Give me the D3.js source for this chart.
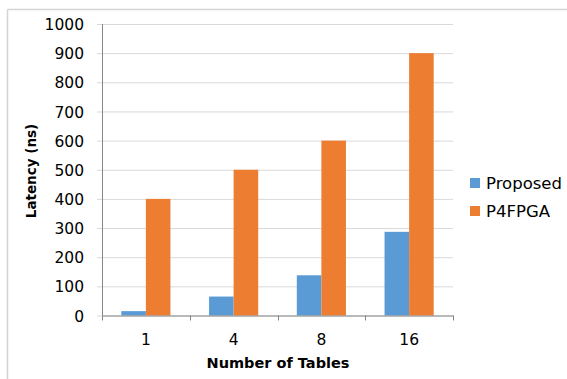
<!DOCTYPE html>
<html>
<head>
<meta charset="utf-8">
<script src="https://cdn.jsdelivr.net/npm/d3@7"></script>
<style>
  html, body { margin: 0; padding: 0; background: #fff; }
  svg { display: block; }
  text { font-family: "DejaVu Sans", sans-serif; fill: #000; }
</style>
</head>
<body>
<svg id="chart" width="567" height="379"></svg>
<script>
// Latency per number of match-action tables
const categories = ["1", "4", "8", "16"];
const seriesNames = ["Proposed", "P4FPGA"];
const proposed = [15, 65, 138, 287];
const p4fpga = [400, 500, 600, 900];
const yTicks = [0, 100, 200, 300, 400, 500, 600, 700, 800, 900, 1000];
const colors = ["#5b9bd5", "#ed7d31"];

const svg = d3.select("#chart");
const W = 567, H = 379;
const plot = { left: 102, right: 453, top: 24, bottom: 315.5 };

// outer chart frame (top and left edges)
svg.append("line").attr("x1", 7.5).attr("x2", W).attr("y1", 9.5).attr("y2", 9.5)
  .attr("stroke", "#d4d4d4").attr("stroke-width", 1.5);
svg.append("line").attr("x1", 7.5).attr("x2", 7.5).attr("y1", 9.5).attr("y2", H)
  .attr("stroke", "#d4d4d4").attr("stroke-width", 1.5);

const x0 = d3.scaleBand().domain(categories).range([plot.left, plot.right]).paddingInner(0).paddingOuter(0);
const bandPad = 0.22; // fraction of band left empty on each side of a group
const x1 = d3.scaleBand().domain(seriesNames)
  .range([x0.bandwidth() * bandPad, x0.bandwidth() * (1 - bandPad)]);
const y = d3.scaleLinear().domain([0, 1000]).range([plot.bottom, plot.top]);

// horizontal gridlines + short ticks
const yAxis = d3.axisLeft(y).tickValues(yTicks).tickSize(-(plot.right - plot.left)).tickPadding(18).tickFormat(d3.format("d"));
const gy = svg.append("g").attr("transform", `translate(${plot.left},0)`).call(yAxis);
gy.select(".domain").remove();
gy.selectAll(".tick line").attr("stroke", "#d9d9d9").attr("x1", -5);
gy.selectAll(".tick text").attr("font-size", 15.5).attr("dy", "0.36em");

// bars
const rows = categories.map((c, i) => ({ cat: c, vals: [proposed[i], p4fpga[i]] }));
const groups = svg.append("g").selectAll("g").data(rows).join("g")
  .attr("transform", d => `translate(${x0(d.cat)},0)`);
groups.selectAll("rect").data(d => d.vals.map((v, k) => ({ key: seriesNames[k], v, k })))
  .join("rect")
  .attr("x", d => x1(d.key))
  .attr("width", x1.bandwidth())
  .attr("y", d => y(d.v))
  .attr("height", d => y(0) - y(d.v))
  .attr("fill", d => colors[d.k]);

// vertical axis line
svg.append("line").attr("x1", plot.left + 0.5).attr("x2", plot.left + 0.5)
  .attr("y1", plot.top).attr("y2", plot.bottom).attr("stroke", "#868686");

// category axis with boundary ticks
const xAxis = d3.axisBottom(x0).tickSize(0).tickPadding(18);
const gx = svg.append("g").attr("transform", `translate(0,${plot.bottom})`).call(xAxis);
gx.select(".domain").attr("stroke", "#868686");
gx.selectAll(".tick text").attr("font-size", 15.5);
const bounds = categories.map(c => x0(c)).concat([x0.range()[1]]);
svg.append("g").selectAll("line").data(bounds).join("line")
  .attr("x1", d => Math.round(d) + 0.5).attr("x2", d => Math.round(d) + 0.5)
  .attr("y1", plot.bottom).attr("y2", plot.bottom + 5)
  .attr("stroke", "#868686");

// axis titles
svg.append("text").attr("x", 278).attr("y", 368).attr("text-anchor", "middle")
  .attr("font-size", 14.5).attr("font-weight", "bold").text("Number of Tables");
svg.append("text").attr("transform", "translate(36,171) rotate(-90)").attr("text-anchor", "middle")
  .attr("font-size", 13.5).attr("font-weight", "bold").text("Latency (ns)");

// legend
const lg = svg.append("g").attr("transform", "translate(470,178)");
seriesNames.forEach((name, k) => {
  lg.append("rect").attr("x", 0).attr("y", k * 28).attr("width", 10).attr("height", 10).attr("fill", colors[k]);
  lg.append("text").attr("x", 16).attr("y", k * 28 + 11).attr("font-size", 16.5).text(name);
});
</script>
</body>
</html>
